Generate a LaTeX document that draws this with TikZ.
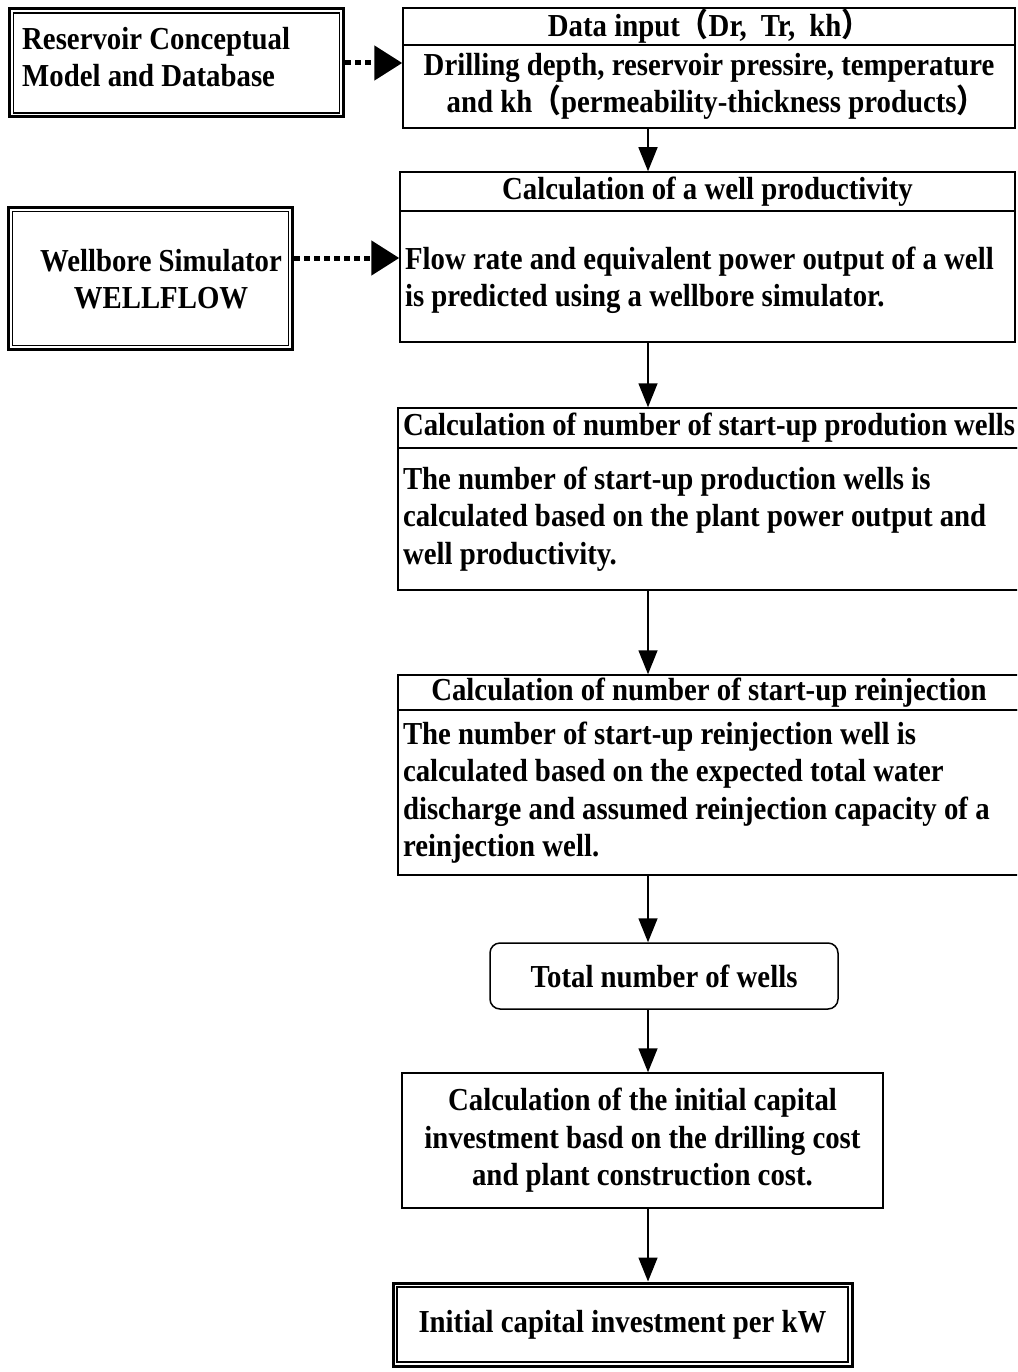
\documentclass[tikz,border=0pt]{standalone}
\usepackage{fontspec}
\setmainfont{Liberation Serif}[FakeStretch=0.9]
\newfontfamily\cjk{Noto Sans CJK SC}[FakeStretch=0.9]
\usetikzlibrary{arrows.meta}
\begin{document}
\begin{tikzpicture}[x=1pt,y=-1pt,
  every node/.style={font=\fontsize{32}{37.5}\selectfont\bfseries},
  box/.style={draw, line width=1.5pt, inner xsep=5pt, inner ysep=0pt, anchor=center},
  dbox/.style={draw, line width=3pt, inner sep=0pt, anchor=center},
  innerline/.style={line width=1.4pt},
  txt/.style={inner sep=0pt},
  rbox/.style={draw, line width=1.5pt, rounded corners=10pt, inner sep=0pt, anchor=center},
  flow/.style={line width=1.5pt, -{Triangle[width=19pt,length=24pt]}},
  dotflow/.style={line width=5pt, dash pattern=on 6pt off 4pt, -{Triangle[width=34pt,length=28pt]}}
]
\clip (0,0) rectangle (1017,1372);
\fill[white] (0,0) rectangle (1017,1372);
\coordinate (ax) at (648,0);

% left source boxes
\node[dbox, minimum width=334pt, minimum height=108pt] (res) at (176.5,63) {};
\draw[innerline] ([shift={(5.5pt,-5.5pt)}]res.north west) rectangle ([shift={(-5.5pt,5.5pt)}]res.south east);
\node[txt, anchor=west, align=flush left] (restxt) at (22,57)
  {Reservoir Conceptual\\Model and Database};
\node[dbox, minimum width=284pt, minimum height=142pt] (wb) at (150.5,278.5) {};
\draw[innerline] ([shift={(5.5pt,-5.5pt)}]wb.north west) rectangle ([shift={(-5.5pt,5.5pt)}]wb.south east);
\node[txt, align=flush center] (wbtxt) at (161,279)
  {Wellbore Simulator\\WELLFLOW};

% box 1
\node[box, minimum height=37pt, text width=602pt, align=flush center] (b1h) at (709,26.5)
  {Data input{\cjk（}Dr,\hspace{14pt}Tr,\hspace{14pt}kh{\cjk）}};
\node[box, minimum height=83pt, text width=602pt, align=flush center] (b1b) at (709,86.5)
  {Drilling depth, reservoir pressire, temperature\\\hspace*{14pt}and kh{\cjk（}permeability-thickness products{\cjk）}};

% box 2
\node[box, minimum height=39pt, text width=605pt, align=flush center] (b2h) at (707.5,191.5)
  {Calculation of a well productivity};
\node[box, minimum height=131pt, text width=605pt, align=flush left] (b2b) at (707.5,276.5)
  {\rule{0pt}{30pt}Flow rate and equivalent power output of a well\\is predicted using a wellbore simulator.};

% box 3
\node[box, minimum height=40pt, text width=612pt, align=flush center] (b3h) at (709,428)
  {Calculation of number of start-up prodution wells};
\node[box, minimum height=142pt, text width=612pt, align=flush left] (b3b) at (709,519)
  {The number of start-up production wells is\\calculated based on the plant power output and\\well productivity.};

% box 4
\node[box, minimum height=35pt, text width=612pt, align=flush center] (b4h) at (709,692.5)
  {Calculation of number of start-up reinjection};
\node[box, minimum height=165pt, text width=612pt, align=flush left] (b4b) at (709,792.5)
  {The number of start-up reinjection well is\\calculated based on the expected total water\\discharge and assumed reinjection capacity of a\\reinjection well.};

% total wells
\node[rbox, minimum width=348pt, minimum height=66pt] (tot) at (664,976)
  {Total number of wells};

% box 6
\node[box, minimum height=135pt, text width=471pt, align=flush center] (b6) at (642.5,1140.5)
  {Calculation of the initial capital\\investment basd on the drilling cost\\and plant construction cost.};

% final
\node[dbox, minimum width=459pt, minimum height=83pt] (fin) at (622.5,1324.5)
  {Initial capital investment per kW};
\draw[innerline] ([shift={(5.5pt,-5.5pt)}]fin.north west) rectangle ([shift={(-5.5pt,5.5pt)}]fin.south east);

% connectors
\draw[dotflow] (res.east) -- (res.east -| b1b.west);
\coordinate (wbout) at ([yshift=20.5pt]wb.east);
\draw[dotflow] (wbout) -- (wbout -| b2b.west);
\draw[flow] (b1b.south -| ax) -- (b2h.north -| ax);
\draw[flow] (b2b.south -| ax) -- (b3h.north -| ax);
\draw[flow] (b3b.south -| ax) -- (b4h.north -| ax);
\draw[flow] (b4b.south -| ax) -- (tot.north -| ax);
\draw[flow] (tot.south -| ax) -- (b6.north -| ax);
\draw[flow] (b6.south -| ax) -- (fin.north -| ax);
\end{tikzpicture}
\end{document}
